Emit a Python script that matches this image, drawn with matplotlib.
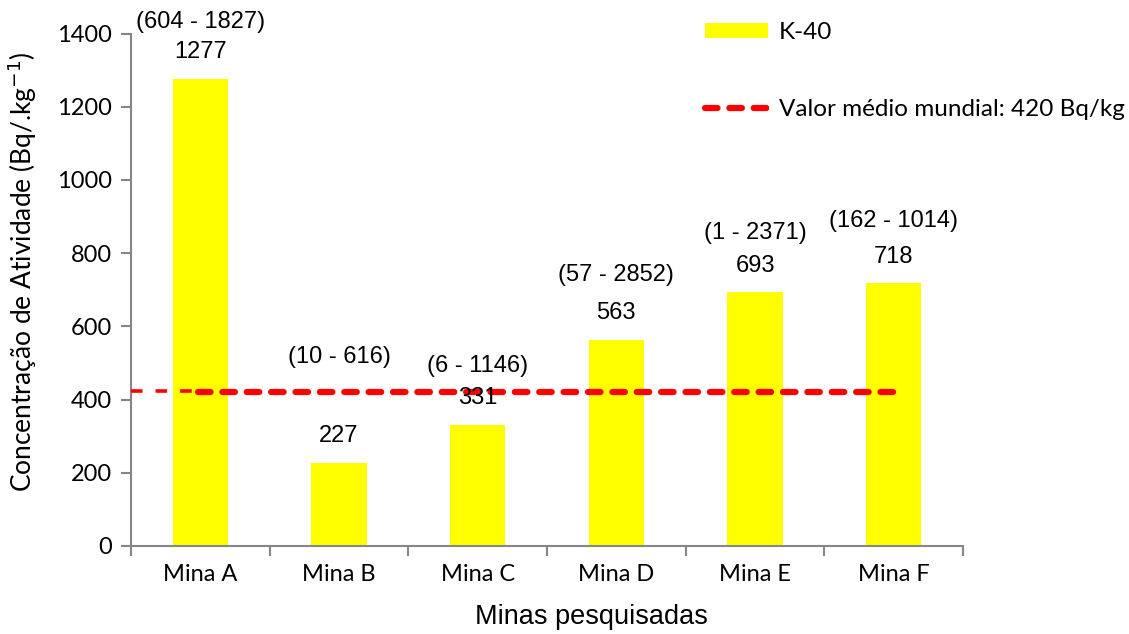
import numpy as np
import matplotlib
matplotlib.use("Agg")
import matplotlib.pyplot as plt
from matplotlib.patches import Patch
from matplotlib.lines import Line2D

minas = ["Mina A", "Mina B", "Mina C", "Mina D", "Mina E", "Mina F"]
k40 = [1277, 227, 331, 563, 693, 718]
faixas = ["(604 - 1827)", "(10 - 616)", "(6 - 1146)", "(57 - 2852)", "(1 - 2371)", "(162 - 1014)"]
media_mundial = 420

# height (in axis units) where each range label sits
faixa_y = [1432, 517, 492, 741, 856, 888]

calibri_like = "Lato"
arial_like = "Liberation Sans"
gray = "#868686"

fig = plt.figure(figsize=(11.29, 6.34), dpi=100)
ax = fig.add_axes([0.116, 0.139, 0.737, 0.808])

x = np.arange(len(minas))
ax.bar(x, k40, width=0.4, color="#FFFF00", zorder=2)

# reference line: short thin piece at the axis, then the main dashed line
ax.plot([-0.5, 0.05], [media_mundial + 4, media_mundial + 4], color="#FF0000",
        lw=2.6, dashes=(3.2, 3.6), zorder=3)
ax.plot([-0.02, 5.0], [media_mundial, media_mundial], color="#FF0000",
        lw=4.5, dashes=(2.0, 1.9), dash_capstyle="round", zorder=3)

for xi, v, f, fy in zip(x, k40, faixas, faixa_y):
    ax.annotate(str(v), (xi, v), xytext=(0, 19), textcoords="offset points",
                ha="center", va="center", fontsize=17, family=arial_like, zorder=4)
    ax.text(xi, fy, f, ha="center", va="center", fontsize=17, family=arial_like, zorder=4)

ax.set_xlim(-0.5, len(minas) - 0.5)
ax.set_ylim(0, 1400)
ax.set_yticks(range(0, 1401, 200))
ax.set_xticks(x)
ax.set_xticklabels(minas)
ax.set_xticks(np.arange(-0.5, len(minas)), minor=True)

for lbl in ax.get_xticklabels() + ax.get_yticklabels():
    lbl.set_family(calibri_like)
    lbl.set_fontsize(17)

ax.tick_params(axis="x", which="major", length=0, pad=13)
ax.tick_params(axis="x", which="minor", length=7, width=1.5, color=gray)
ax.tick_params(axis="y", length=7, width=1.5, color=gray, pad=7)

for s in ["top", "right"]:
    ax.spines[s].set_visible(False)
for s in ["left", "bottom"]:
    ax.spines[s].set_color(gray)
    ax.spines[s].set_linewidth(1.5)

ax.set_xlabel("Minas pesquisadas", family=arial_like, fontsize=19.5)
ax.xaxis.set_label_coords(0.553, -0.113)
ax.set_ylabel("Concentração de Atividade (Bq/.kg$^{-1}$)", family=calibri_like,
              fontsize=19)
ax.yaxis.set_label_coords(-0.11, 0.535)

handles = [
    Patch(facecolor="#FFFF00", edgecolor="none"),
    Line2D([0], [0], color="#FF0000", lw=4.5, dashes=(2.0, 1.9), dash_capstyle="round"),
]
leg = ax.legend(handles, ["K-40", "Valor médio mundial: 420 Bq/kg"],
                loc="upper left", bbox_to_anchor=(0.605, 1.0),
                bbox_transform=fig.transFigure, frameon=False,
                prop={"family": calibri_like, "size": 17.5},
                handlelength=2.6, handleheight=0.6, handletextpad=0.45,
                labelspacing=2.3)

fig.savefig("out.png", dpi=100)
